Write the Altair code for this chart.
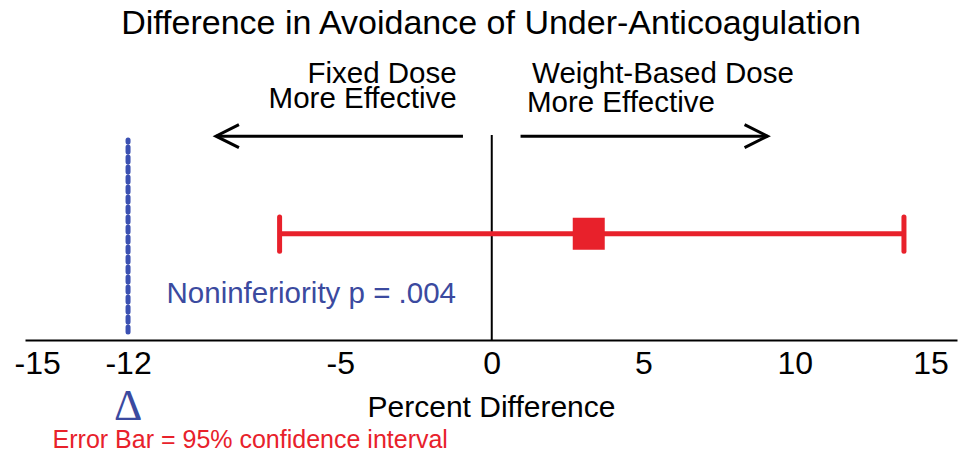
import altair as alt
import pandas as pd

# ---------------- data ----------------
title_text = "Difference in Avoidance of Under-Anticoagulation"
x_title = "Percent Difference"
tick_values = [-15, -12, -5, 0, 5, 10, 15]

estimate = [3.2]          # point estimate (percent difference)
ci_low = [-7.0]           # lower 95% CI
ci_high = [13.6]          # upper 95% CI
margin = [-12]            # noninferiority margin (Delta)

left_labels = ["Fixed Dose", "More Effective"]
right_labels = ["Weight-Based Dose", "More Effective"]
p_label = ["Noninferiority p = .004"]
delta_label = ["\u0394"]
note_label = ["Error Bar = 95% confidence interval"]

# ---------------- layout (annotation positions in data units) ----------------
FONT = "Liberation Sans"
RED = "#e8212b"
BLUE_TXT = "#3b4a9f"
BLUE_LINE = "#3b50b2"
W, H = 932, 290
x_domain = [-15.4, 15.35]
y_domain = [0, 100]

row_y = 36.6
cap_top, cap_bot = 42.4, 30.6
zero_top = 70.7
margin_top, margin_bot = 69.0, 2.8
arrow_y = 70.3
arrow_inner, arrow_outer = 0.95, 9.1

xs = alt.Scale(domain=x_domain, nice=False, zero=False)
ys = alt.Scale(domain=y_domain, nice=False, zero=False)
x_axis = alt.Axis(
    values=tick_values, ticks=False, tickSize=0, grid=False,
    labelExpr="datum.value < 0 ? '-' + abs(datum.value) : '' + datum.value",
    domainColor="black", domainWidth=2,
    labelFont=FONT, labelFontSize=32, labelColor="black", labelPadding=8,
    labelOverlap=False, labelFlush=11, labelFlushOffset=2, labelBound=False,
    titleFont=FONT, titleFontSize=30, titleColor="black", titleFontWeight="normal",
    titlePadding=13,
)

def X(field="x"):
    return alt.X(f"{field}:Q", scale=xs, axis=x_axis, title=x_title)

def Y(field="y"):
    return alt.Y(f"{field}:Q", scale=ys, axis=None)

# confidence interval line
df_ci = pd.DataFrame({"x": ci_low, "x2": ci_high, "y": [row_y]})
ci_line = alt.Chart(df_ci).mark_rule(color=RED, strokeWidth=5).encode(
    x=X(), x2="x2:Q", y=Y())

# caps
df_caps = pd.DataFrame({"x": ci_low + ci_high, "y": [cap_top] * 2, "y2": [cap_bot] * 2})
caps = alt.Chart(df_caps).mark_rule(color=RED, strokeWidth=5, strokeCap="round").encode(
    x=X(), y=Y(), y2="y2:Q")

# point estimate
df_pt = pd.DataFrame({"x": estimate, "y": [row_y]})
point = alt.Chart(df_pt).mark_square(size=1024, color=RED, opacity=1, filled=True).encode(
    x=X(), y=Y())

# zero line
df_zero = pd.DataFrame({"x": [0], "y": [0], "y2": [zero_top]})
zero_line = alt.Chart(df_zero).mark_rule(color="black", strokeWidth=2).encode(
    x=X(), y=Y(), y2="y2:Q")

# noninferiority margin line
df_m = pd.DataFrame({"x": margin, "y": [margin_bot], "y2": [margin_top]})
m_line = alt.Chart(df_m).mark_rule(
    color=BLUE_LINE, strokeWidth=5, strokeDash=[5, 5], strokeCap="round"
).encode(x=X(), y=Y(), y2="y2:Q")

# arrows
df_arr = pd.DataFrame({
    "x": [-arrow_inner, arrow_inner],
    "x2": [-arrow_outer, arrow_outer],
    "y": [arrow_y, arrow_y],
})
arrows = alt.Chart(df_arr).mark_rule(color="black", strokeWidth=3).encode(
    x=X(), x2="x2:Q", y=Y())
df_heads = pd.DataFrame({
    "x": [-arrow_outer, arrow_outer],
    "y": [arrow_y, arrow_y],
    "shape": ["M2,-1L0,0L2,1", "M-2,-1L0,0L-2,1"],
})
heads = alt.Chart(df_heads).mark_point(
    filled=False, color="black", strokeWidth=3, size=529, opacity=1, strokeJoin="miter"
).encode(x=X(), y=Y(), shape=alt.Shape("shape:N", scale=None))

# direction labels
df_left = pd.DataFrame({"x": [-1.16, -1.16], "y": [88.6, 80.0], "t": left_labels})
left_txt = alt.Chart(df_left).mark_text(
    align="right", baseline="alphabetic", font=FONT, fontSize=29.5, color="black"
).encode(x=X(), y=Y(), text="t:N")
df_right = pd.DataFrame({"x": [1.33, 1.16], "y": [88.6, 78.6], "t": right_labels})
right_txt = alt.Chart(df_right).mark_text(
    align="left", baseline="alphabetic", font=FONT, fontSize=29.5, color="black"
).encode(x=X(), y=Y(), text="t:N")

# p-value label
df_p = pd.DataFrame({"x": [-10.73], "y": [12.8], "t": p_label})
p_txt = alt.Chart(df_p).mark_text(
    align="left", baseline="alphabetic", font=FONT, fontSize=29.5, color=BLUE_TXT
).encode(x=X(), y=Y(), text="t:N")

# Delta label under the -12 tick
df_d = pd.DataFrame({"x": margin, "y": [-27.6], "t": delta_label})
d_txt = alt.Chart(df_d).mark_text(
    align="center", baseline="alphabetic", font="Liberation Serif", fontSize=44, color=BLUE_TXT
).encode(x=X(), y=Y(), text="t:N")

# footnote
df_n = pd.DataFrame({"x": [-14.49], "y": [-37.4], "t": note_label})
n_txt = alt.Chart(df_n).mark_text(
    align="left", baseline="alphabetic", font=FONT, fontSize=25, color=RED
).encode(x=X(), y=Y(), text="t:N")

chart = alt.layer(
    zero_line, m_line, arrows, heads, ci_line, caps, point,
    left_txt, right_txt, p_txt, d_txt, n_txt,
).properties(
    width=W, height=H,
    title=alt.TitleParams(
        text=title_text, font=FONT, fontSize=34, fontWeight="normal", color="black",
        anchor="middle", offset=9,
    ),
    autosize=alt.AutoSizeParams(type="none"),
    padding={"left": 17, "top": 42, "right": 2, "bottom": 113},
    background="white",
).configure_view(stroke=None)

chart.save("out.html", embed_options={"renderer": "svg", "actions": False})
